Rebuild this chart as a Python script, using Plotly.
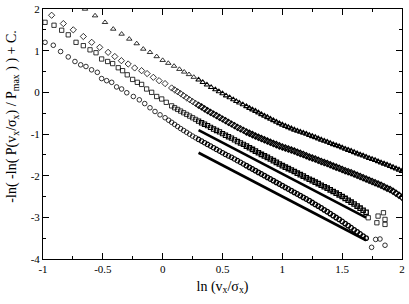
import plotly.graph_objects as go

# ---- data ----
circ_x = [-0.983, -0.914, -0.853, -0.789, -0.733, -0.685, -0.641, -0.594, -0.546, -0.510, -0.468,
          -0.426, -0.385, -0.343, -0.300, -0.245, -0.195, -0.150, -0.106, -0.064, -0.022, 0.020, 0.050,
          0.075, 0.100, 0.125, 0.150, 0.175, 0.200, 0.225, 0.250, 0.275, 0.300, 0.325, 0.350, 0.375,
          0.400, 0.425, 0.450, 0.475, 0.500, 0.525, 0.550, 0.575, 0.600, 0.625, 0.650, 0.675, 0.700,
          0.725, 0.750, 0.775, 0.800, 0.825, 0.850, 0.875, 0.900, 0.925, 0.950, 0.975, 1.000, 1.025,
          1.050, 1.075, 1.100, 1.125, 1.150, 1.175, 1.200, 1.225, 1.250, 1.275, 1.300, 1.325, 1.350,
          1.375, 1.400, 1.425, 1.450, 1.475, 1.500, 1.525, 1.550, 1.575, 1.600, 1.625, 1.650, 1.675,
          1.700, 1.746, 1.780, 1.816, 1.858]
circ_y = [1.20, 1.13, 0.98, 0.85, 0.74, 0.66, 0.62, 0.54, 0.48, 0.33, 0.28,
          0.24, 0.13, 0.08, -0.01, -0.10, -0.18, -0.27, -0.37, -0.46, -0.54, -0.61, -0.67,
          -0.72, -0.77, -0.82, -0.87, -0.915, -0.96, -1.005, -1.05, -1.09, -1.13, -1.17, -1.21, -1.25,
          -1.29, -1.33, -1.37, -1.41, -1.45, -1.49, -1.525, -1.56, -1.60, -1.64, -1.68, -1.72, -1.76,
          -1.80, -1.84, -1.88, -1.92, -1.96, -2.00, -2.04, -2.08, -2.12, -2.16, -2.20, -2.24, -2.28,
          -2.32, -2.36, -2.40, -2.44, -2.48, -2.52, -2.56, -2.60, -2.645, -2.69, -2.73, -2.775, -2.82,
          -2.865, -2.91, -2.96, -3.005, -3.05, -3.10, -3.15, -3.20, -3.25, -3.30, -3.35, -3.40, -3.45,
          -3.50, -3.72, -3.53, -3.52, -3.67]

sq_x = [-0.983, -0.908, -0.844, -0.789, -0.724, -0.663, -0.607, -0.557, -0.510, -0.460, -0.418,
        -0.371, -0.335, -0.296, -0.251, -0.212, -0.176, -0.134, -0.092, -0.050, -0.008, 0.030,
        0.075, 0.100, 0.125, 0.150, 0.175, 0.200, 0.225, 0.250, 0.275, 0.300, 0.325, 0.350, 0.375,
        0.400, 0.425, 0.450, 0.475, 0.500, 0.525, 0.550, 0.575, 0.600, 0.625, 0.650, 0.675, 0.700,
        0.725, 0.750, 0.775, 0.800, 0.825, 0.850, 0.875, 0.900, 0.925, 0.950, 0.975, 1.000, 1.025,
        1.050, 1.075, 1.100, 1.125, 1.150, 1.175, 1.200, 1.225, 1.250, 1.275, 1.300, 1.325, 1.350,
        1.375, 1.400, 1.425, 1.450, 1.475, 1.500, 1.525, 1.550, 1.575, 1.600, 1.625, 1.650, 1.675,
        1.700, 1.718, 1.790, 1.800, 1.845, 1.858, 1.858]
sq_y = [1.68, 1.61, 1.49, 1.38, 1.20, 1.12, 1.02, 0.95, 0.80, 0.74, 0.69,
        0.59, 0.52, 0.42, 0.31, 0.24, 0.19, 0.08, 0.00, -0.10, -0.16, -0.24,
        -0.325, -0.37, -0.41, -0.45, -0.49, -0.53, -0.57, -0.61, -0.65, -0.69, -0.73, -0.765, -0.80,
        -0.84, -0.88, -0.915, -0.95, -0.99, -1.03, -1.065, -1.10, -1.14, -1.18, -1.215, -1.25, -1.29,
        -1.33, -1.37, -1.41, -1.45, -1.49, -1.525, -1.56, -1.60, -1.64, -1.68, -1.72, -1.76, -1.795,
        -1.83, -1.865, -1.90, -1.94, -1.975, -2.01, -2.05, -2.085, -2.12, -2.155, -2.19, -2.23, -2.265,
        -2.30, -2.34, -2.38, -2.42, -2.46, -2.50, -2.545, -2.59, -2.635, -2.68, -2.73, -2.78, -2.83,
        -2.88, -3.01, -3.13, -2.97, -2.89, -3.05, -3.17]

dia_x = [-0.928, -0.830, -0.747, -0.663, -0.593, -0.526, -0.456, -0.400, -0.345, -0.288, -0.234,
         -0.176, -0.130, -0.078, -0.030, 0.020,
         0.075, 0.100, 0.125, 0.150, 0.175, 0.200, 0.225, 0.250, 0.275, 0.300, 0.325, 0.350, 0.375,
         0.400, 0.425, 0.450, 0.475, 0.500, 0.525, 0.550, 0.575, 0.600, 0.625, 0.650, 0.675, 0.700,
         0.725, 0.750, 0.775, 0.800, 0.825, 0.850, 0.875, 0.900, 0.925, 0.950, 0.975, 1.000, 1.025,
         1.050, 1.075, 1.100, 1.125, 1.150, 1.175, 1.200, 1.225, 1.250, 1.275, 1.300, 1.325, 1.350,
         1.375, 1.400, 1.425, 1.450, 1.475, 1.500, 1.525, 1.550, 1.575, 1.600, 1.625, 1.650, 1.675,
         1.700, 1.725, 1.750, 1.775, 1.800, 1.825, 1.850, 1.875, 1.900, 1.925, 1.950, 1.975, 2.000]
dia_y = [1.85, 1.65, 1.50, 1.34, 1.20, 1.08, 0.96, 0.86, 0.76, 0.68, 0.585,
         0.52, 0.45, 0.36, 0.28, 0.21,
         0.105, 0.06, 0.015, -0.03, -0.08, -0.13, -0.175, -0.22, -0.265, -0.31, -0.35, -0.395, -0.44,
         -0.48, -0.52, -0.56, -0.60, -0.64, -0.68, -0.72, -0.76, -0.80, -0.84, -0.875, -0.91, -0.95,
         -0.98, -1.015, -1.05, -1.08, -1.11, -1.14, -1.17, -1.20, -1.23, -1.255, -1.285, -1.31, -1.335,
         -1.36, -1.385, -1.41, -1.44, -1.465, -1.49, -1.52, -1.55, -1.575, -1.60, -1.63, -1.66, -1.685,
         -1.71, -1.74, -1.77, -1.795, -1.82, -1.85, -1.88, -1.905, -1.93, -1.96, -1.99, -2.02, -2.05,
         -2.08, -2.11, -2.14, -2.17, -2.20, -2.23, -2.265, -2.30, -2.33, -2.375, -2.42, -2.47, -2.52]

tri_x = [-0.649, -0.565, -0.482, -0.413, -0.343, -0.279, -0.217, -0.162, -0.106, -0.050, 0.000, 0.047,
         0.095, 0.140, 0.180, 0.220, 0.260, 0.300, 0.335, 0.370, 0.405, 0.440, 0.470, 0.500, 0.530,
         0.560, 0.590, 0.615, 0.640, 0.670,
         0.700, 0.725, 0.750, 0.775, 0.800, 0.825, 0.850, 0.875, 0.900, 0.925, 0.950, 0.975, 1.000,
         1.025, 1.050, 1.075, 1.100, 1.125, 1.150, 1.175, 1.200, 1.225, 1.250, 1.275, 1.300, 1.325,
         1.350, 1.375, 1.400, 1.425, 1.450, 1.475, 1.500, 1.525, 1.550, 1.575, 1.600, 1.625, 1.650,
         1.675, 1.700, 1.725, 1.750, 1.775, 1.800, 1.825, 1.850, 1.875, 1.900, 1.925, 1.950, 1.975, 2.000]
tri_y = [2.00, 1.84, 1.68, 1.52, 1.40, 1.28, 1.17, 1.04, 0.96, 0.86, 0.77, 0.70,
         0.63, 0.555, 0.49, 0.43, 0.365, 0.30, 0.24, 0.18, 0.12, 0.065, 0.02, -0.03, -0.08,
         -0.125, -0.175, -0.215, -0.25, -0.295,
         -0.34, -0.38, -0.415, -0.45, -0.49, -0.53, -0.565, -0.60, -0.64, -0.675, -0.71, -0.745, -0.78,
         -0.81, -0.84, -0.87, -0.90, -0.925, -0.95, -0.975, -1.00, -1.03, -1.055, -1.08, -1.11, -1.14,
         -1.165, -1.19, -1.22, -1.25, -1.275, -1.30, -1.33, -1.36, -1.385, -1.41, -1.44, -1.47, -1.495,
         -1.52, -1.55, -1.58, -1.605, -1.63, -1.66, -1.69, -1.715, -1.74, -1.77, -1.80, -1.83, -1.86, -1.89]

fit_x = [0.30, 1.70]
fit1_y = [-0.905, -3.005]
fit2_y = [-1.45, -3.55]

x_ticks = [-1, -0.5, 0, 0.5, 1, 1.5, 2]
x_tick_labels = ["-1", "-0.5", "0", "0.5", "1", "1.5", "2"]
y_ticks = [-4, -3, -2, -1, 0, 1, 2]
y_tick_labels = ["-4", "-3", "-2", "-1", "0", "1", "2"]

fig = go.Figure()

def outline_width(xi, end):
    # heavier outlines where points crowd into a band; scattered tail stays thin
    if xi > end:
        return 0.8
    if xi < 0.3:
        return 0.8
    if xi < 0.7:
        return 1.05
    return 1.3

def add_series(x, y, symbol, size, end):
    widths = [outline_width(xi, end) for xi in x]
    fig.add_trace(go.Scatter(
        x=x, y=y, mode="markers",
        marker=dict(symbol=symbol, size=size, color="black",
                    line=dict(color="black", width=widths)),
        showlegend=False, hoverinfo="skip"))

add_series(circ_x, circ_y, "circle-open", 4.6, 1.71)
add_series(sq_x, sq_y, "square-open", 4.3, 1.71)
add_series(dia_x, dia_y, "diamond-open", 4.8, 2.1)
add_series(tri_x, tri_y, "triangle-up-open", 4.8, 2.1)

for fy in (fit1_y, fit2_y):
    fig.add_trace(go.Scatter(x=fit_x, y=fy, mode="lines",
                             line=dict(color="black", width=2.6),
                             showlegend=False, hoverinfo="skip"))

serif = "Liberation Serif, Times New Roman, serif"
axis_common = dict(
    showline=True, linecolor="black", linewidth=1, mirror="ticks",
    ticks="inside", ticklen=6, tickwidth=1, tickcolor="black",
    showgrid=False, zeroline=False, automargin=False,
    tickfont=dict(family=serif, size=11, color="black"),
)

fig.update_layout(
    width=409, height=304,
    margin=dict(l=43, r=7, t=9, b=45),
    paper_bgcolor="white", plot_bgcolor="white",
    xaxis=dict(range=[-1, 2], tickmode="array", tickvals=x_ticks, ticktext=x_tick_labels,
               minor=dict(dtick=0.25, ticks="inside", ticklen=3, tickcolor="black", tickwidth=1),
               title=dict(text="ln (v<sub>x</sub>/σ<sub>x</sub>)",
                          font=dict(family=serif, size=14, color="black"), standoff=6),
               **axis_common),
    yaxis=dict(range=[-4, 2], tickmode="array", tickvals=y_ticks, ticktext=y_tick_labels,
               minor=dict(dtick=0.5, ticks="inside", ticklen=3, tickcolor="black", tickwidth=1),
               **axis_common),
    annotations=[dict(
        text="-ln( -ln( P(v<sub>x</sub>/σ<sub>x</sub>) / P<sub>max</sub> ) ) + C.",
        xref="paper", yref="paper", x=-0.086, y=0.57, xanchor="center", yanchor="middle",
        textangle=-90, showarrow=False,
        font=dict(family=serif, size=14, color="black"))],
)

fig.write_html("out.html", config={"displayModeBar": False},
               post_script="document.body.style.margin='0';document.body.style.overflow='hidden';")
